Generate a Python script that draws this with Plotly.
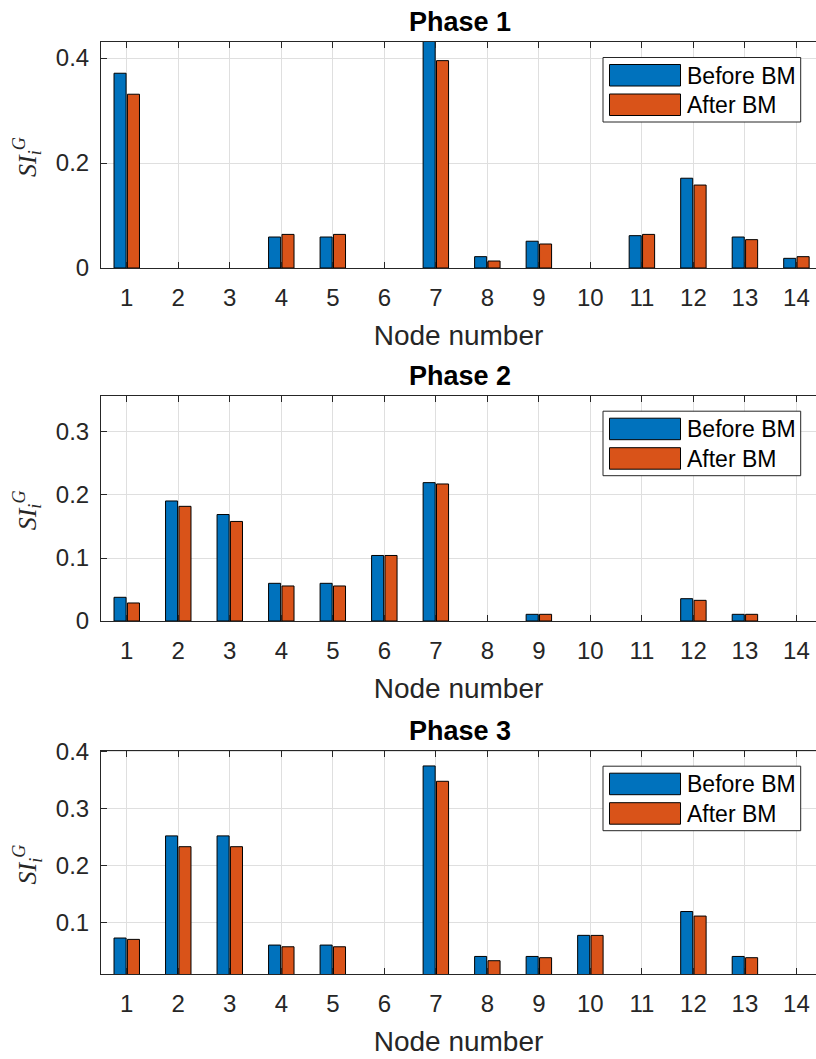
import plotly.graph_objects as go

nodes = list(range(1, 15))
tick_labels = [str(n) for n in nodes]

phase1_before = [0.371, 0, 0, 0.059, 0.059, 0, 0.44, 0.0216, 0.051, 0, 0.0616, 0.171, 0.059, 0.0184]
phase1_after = [0.331, 0, 0, 0.064, 0.064, 0, 0.395, 0.0133, 0.0457, 0, 0.064, 0.158, 0.054, 0.0216]
phase2_before = [0.0376, 0.1905, 0.169, 0.0598, 0.0598, 0.104, 0.2196, 0, 0.0106, 0, 0, 0.0354, 0.0106, 0]
phase2_after = [0.0286, 0.182, 0.158, 0.0556, 0.0556, 0.104, 0.2175, 0, 0.0106, 0, 0, 0.0328, 0.0106, 0]
phase3_before = [0.0724, 0.252, 0.252, 0.060, 0.060, 0, 0.375, 0.040, 0.040, 0.0771, 0, 0.119, 0.040, 0]
phase3_after = [0.070, 0.233, 0.233, 0.057, 0.057, 0, 0.348, 0.0325, 0.0378, 0.077, 0, 0.111, 0.0378, 0]

titles = ["Phase 1", "Phase 2", "Phase 3"]
series_names = ["Before BM", "After BM"]

W, H = 816, 1059
BLUE = "#0072BD"
ORANGE = "#D95319"
AX = "#262626"
GRID = "#dfdfdf"
FONT = "Liberation Sans, Arial, Helvetica, sans-serif"

# pixel geometry of plot areas (top, bottom)
panels_px = [(42, 268), (395.7, 621), (750.7, 974.3)]
y_ranges = [[0, 0.4305], [0, 0.3576], [0.0086, 0.4018]]
y_dticks = [0.2, 0.1, 0.1]
x_left_px = 101
x_range = [0.5, 14.38]

data = [(phase1_before, phase1_after), (phase2_before, phase2_after), (phase3_before, phase3_after)]

def px_x(p):
    return p / W

def px_y(p):
    return 1 - p / H

def edge_widths(vals):
    return [1 if v > 0 else 0 for v in vals]

fig = go.Figure()
layout = dict(
    width=W, height=H,
    margin=dict(l=0, r=0, t=0, b=0, autoexpand=False),
    paper_bgcolor="white", plot_bgcolor="white",
    barmode="group", bargap=0.48, bargroupgap=0.1,
    showlegend=False,
    font=dict(family=FONT, color=AX),
)
annotations = []
shapes = []

for i, ((before, after), (top, bot)) in enumerate(zip(data, panels_px)):
    k = "" if i == 0 else str(i + 1)
    xa, ya = "x" + k, "y" + k
    fig.add_trace(go.Bar(x=nodes, y=before, name=series_names[0], xaxis=xa, yaxis=ya,
                         marker=dict(color=BLUE, line=dict(color="black", width=edge_widths(before)))))
    fig.add_trace(go.Bar(x=nodes, y=after, name=series_names[1], xaxis=xa, yaxis=ya,
                         marker=dict(color=ORANGE, line=dict(color="black", width=edge_widths(after)))))
    layout["xaxis" + k] = dict(
        domain=[px_x(x_left_px), 1], range=x_range, anchor=ya, automargin=False,
        tickmode="array", tickvals=nodes, ticktext=tick_labels,
        ticks="inside", ticklen=6, tickcolor=AX, tickwidth=1,
        showline=True, linecolor=AX, linewidth=1, mirror="ticks",
        showgrid=True, gridcolor=GRID, gridwidth=1, zeroline=False,
        tickfont=dict(size=24, color=AX, family=FONT),
        ticklabelstandoff=8,
        title=dict(text="Node number", font=dict(size=28, color=AX, family=FONT), standoff=15),
    )
    layout["yaxis" + k] = dict(
        domain=[px_y(bot), px_y(top)], range=y_ranges[i], anchor=xa, automargin=False,
        dtick=y_dticks[i], tick0=0,
        ticks="inside", ticklen=6, tickcolor=AX, tickwidth=1,
        showline=True, linecolor=AX, linewidth=1,
        showgrid=True, gridcolor=GRID, gridwidth=1, zeroline=False,
        tickfont=dict(size=24, color=AX, family=FONT),
        ticklabelstandoff=6,
    )
    # panel title
    annotations.append(dict(text="<b>" + titles[i] + "</b>", x=px_x(460), y=px_y(top - 20),
                            xref="paper", yref="paper", showarrow=False,
                            font=dict(size=27, color="black", family=FONT),
                            xanchor="center", yanchor="middle"))
    # y label
    annotations.append(dict(text="<i>SI</i><sub><i>i</i></sub><sup><i>G</i></sup>",
                            x=px_x(27), y=px_y((top + bot) / 2 + 2),
                            xref="paper", yref="paper", showarrow=False, textangle=-90,
                            font=dict(size=26, color=AX, family="Liberation Serif, DejaVu Serif, serif"),
                            xanchor="center", yanchor="middle"))
    # legend box
    lt = top + 15.5
    shapes.append(dict(type="rect", xref="paper", yref="paper",
                       x0=px_x(603), x1=px_x(800.7), y0=px_y(lt), y1=px_y(lt + 64.5),
                       line=dict(color=AX, width=1), fillcolor="white", layer="above"))
    for j, (col, name) in enumerate(zip([BLUE, ORANGE], series_names)):
        s0 = lt + 7 + j * 29.5
        shapes.append(dict(type="rect", xref="paper", yref="paper",
                           x0=px_x(609.5), x1=px_x(680.5), y0=px_y(s0), y1=px_y(s0 + 21.5),
                           line=dict(color="black", width=1), fillcolor=col, layer="above"))
        annotations.append(dict(text=name, x=px_x(685), y=px_y(s0 + 11), xref="paper", yref="paper",
                                showarrow=False, xanchor="left", yanchor="middle",
                                font=dict(size=23, color="black", family=FONT)))

layout["annotations"] = annotations
layout["shapes"] = shapes
fig.update_layout(**layout)
fig.write_html("out.html")
